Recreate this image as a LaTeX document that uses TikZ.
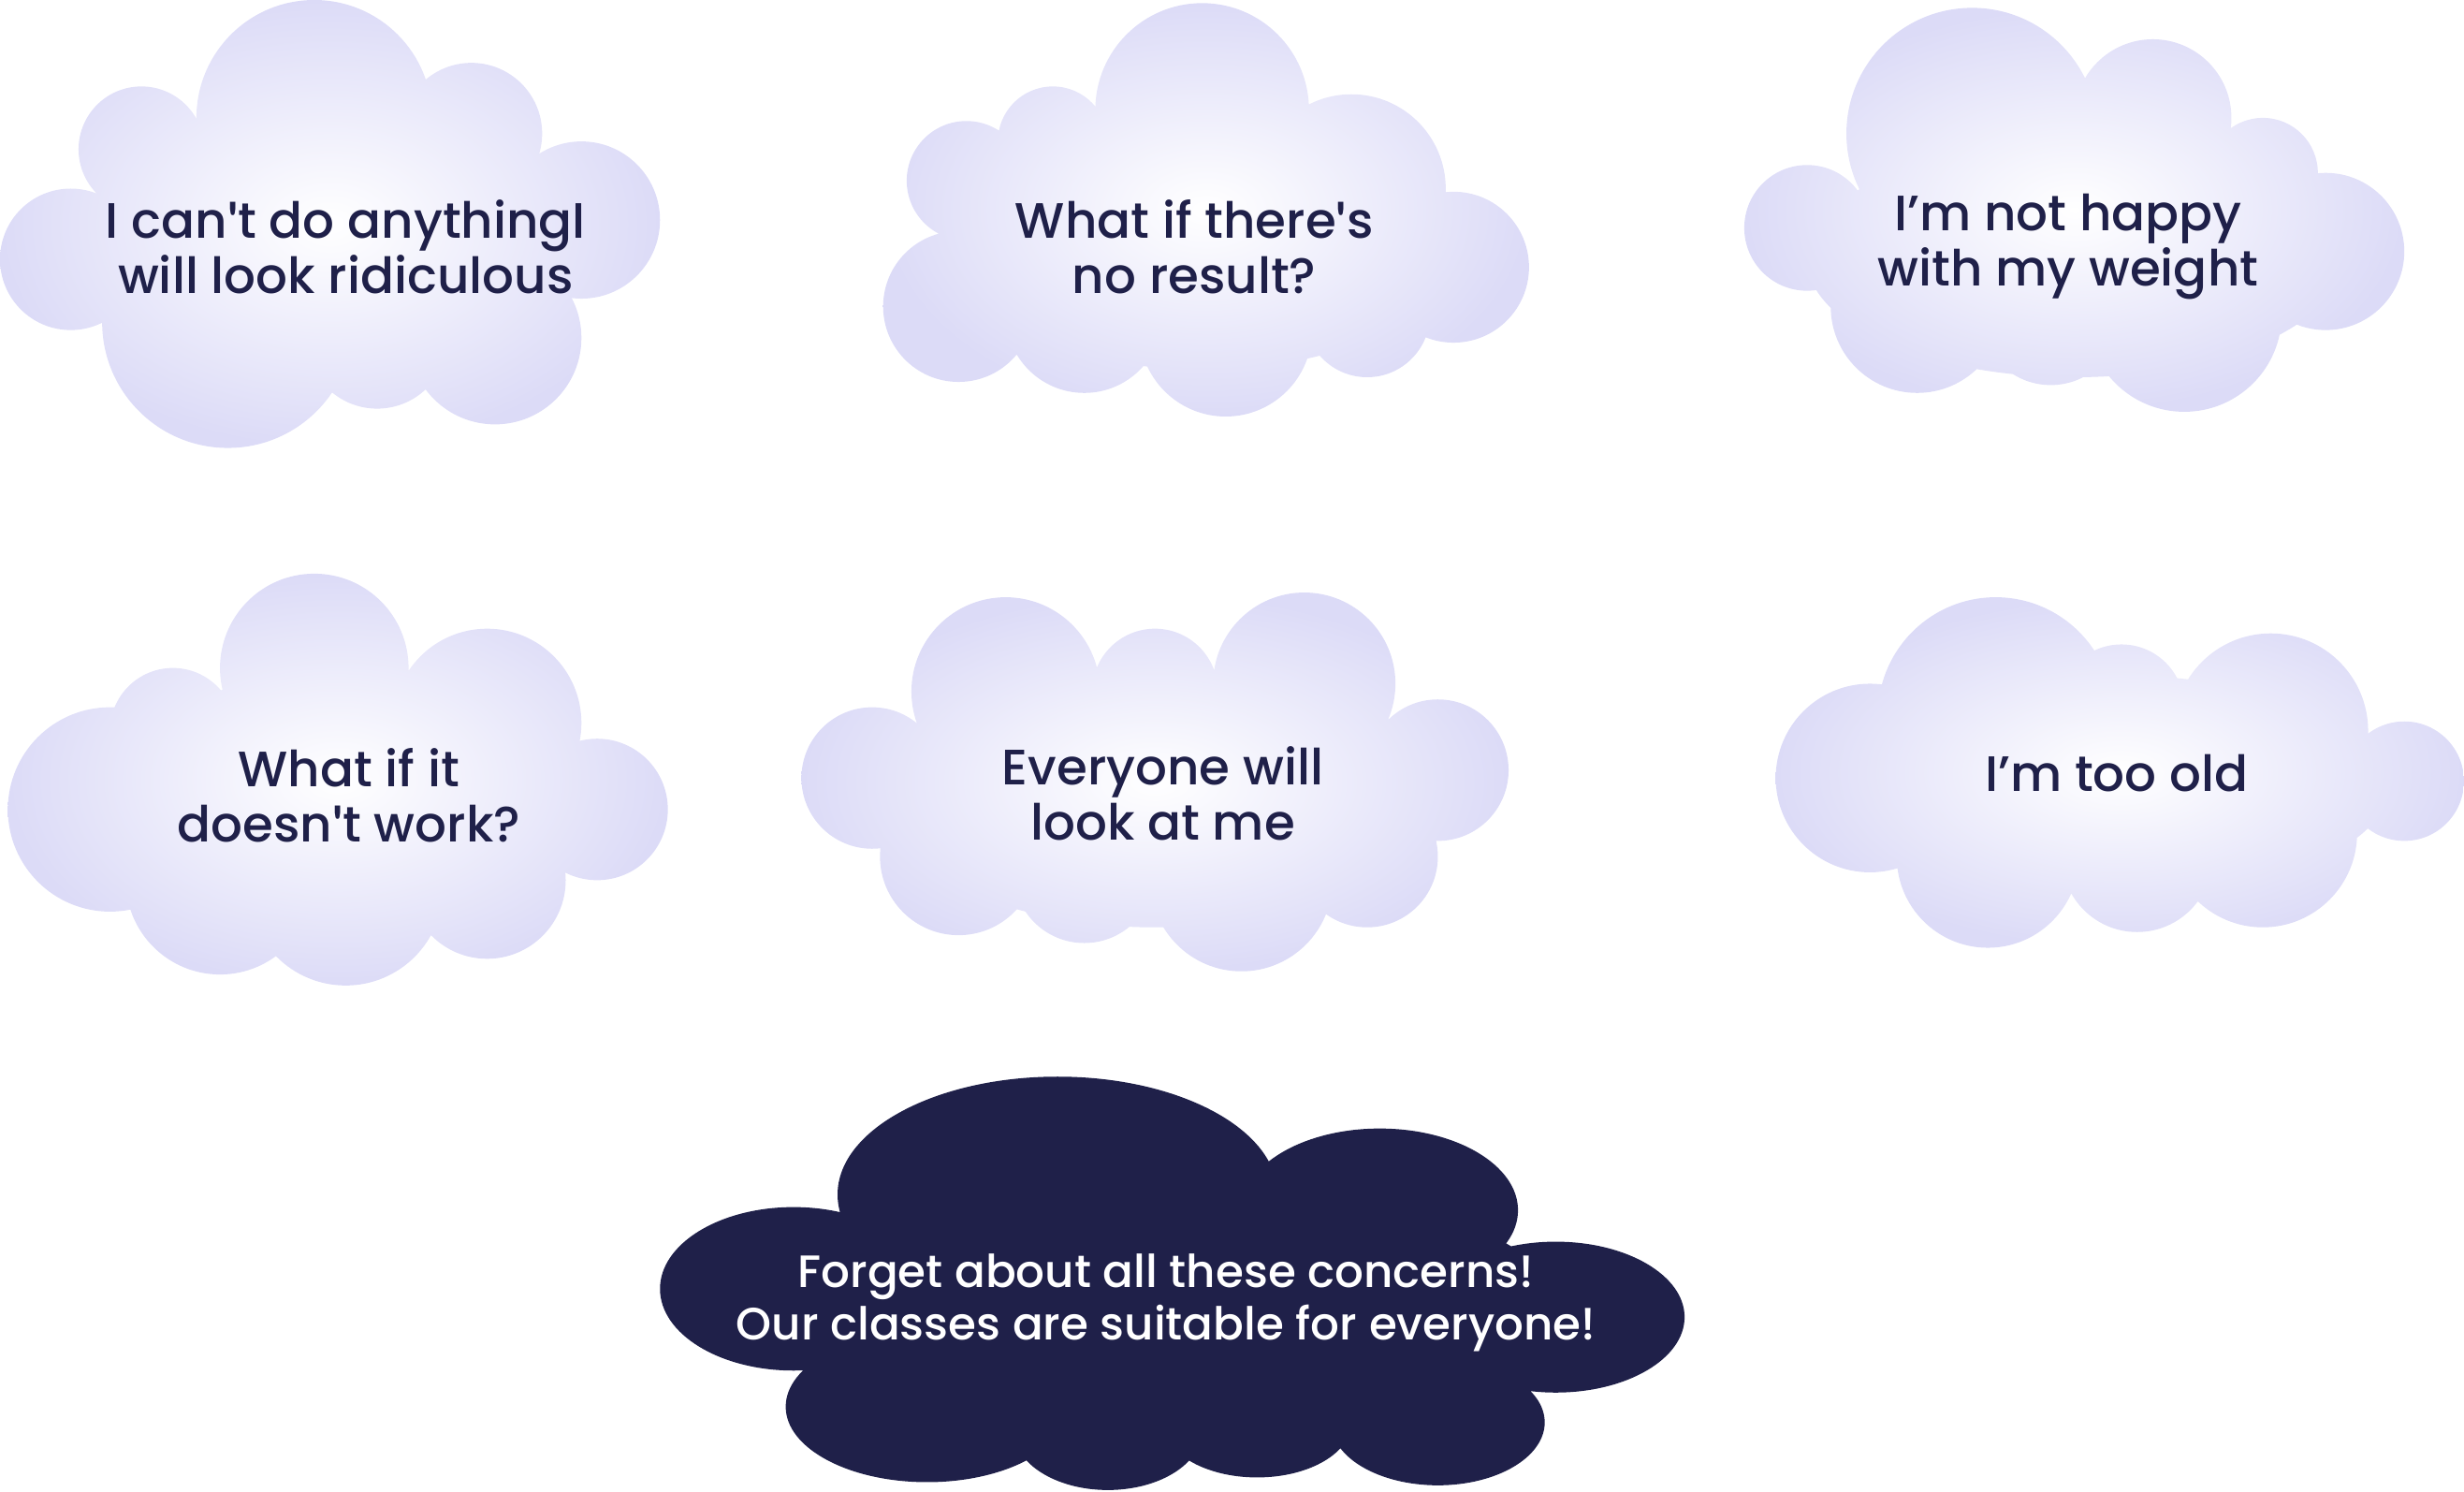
\documentclass[tikz,border=0pt]{standalone}
\usepackage{fontspec}
\setmainfont{Poppins}[UprightFont=* Medium]
\newfontfamily\apf{Lato}[UprightFont=* Bold]
\definecolor{navy}{HTML}{1F2049}
\definecolor{lav}{HTML}{DCDBF7}
\newcommand{\ap}{{\apf\char"27}}
\tikzset{cloud/.style={inner color=white,outer color=lav},
 txt/.style={text=navy,align=center,font=\fontsize{9}{9.9}\selectfont}}
\begin{document}
\begin{tikzpicture}[x=0.01cm,y=-0.01cm]
\useasboundingbox (0,0) rectangle (1568,949);
% cloud 1
\shade[cloud] (200,75) circle (75) (90,95) circle (40) (45,165) circle (45) (145,205) circle (80)
 (240,215) circle (45) (315,215) circle (55) (370,140) circle (50) (300,85) circle (45) (210,160) ellipse (150 and 80);
\node[txt] (c1) at (220,157) {I can\ap t do anythingI\\will look ridiculous};
% cloud 2
\shade[cloud] (765,70) circle (68) (670,90) circle (35) (615,115) circle (38) (610,195) circle (48)
 (690,200) circle (50) (780,210) circle (55) (870,200) circle (40) (925,170) circle (48) (860,120) circle (60) (765,160) ellipse (160 and 75);
\node[txt] (c2) at (760,157) {What if there\ap s\\no result?};
% cloud 3
\shade[cloud] (1255,85) circle (80) (1370,75) circle (50) (1150,145) circle (40) (1220,195) circle (55)
 (1390,200) circle (62) (1480,160) circle (50) (1440,110) circle (35) (1320,165) ellipse (170 and 75) (1305,200) circle (45);
\node[txt] (c3) at (1316,157) {I’m not happy\\with my weight};
% cloud 4
\shade[cloud] (200,425) circle (60) (310,460) circle (60) (70,515) circle (65) (380,515) circle (45)
 (140,560) circle (60) (220,565) circle (62) (310,560) circle (50) (110,465) circle (40) (215,510) ellipse (160 and 80);
\node[txt] (c4) at (222,506) {What if it\\doesn\ap t work?};
% cloud 5
\shade[cloud] (640,440) circle (60) (830,435) circle (58) (735,440) circle (40) (555,495) circle (45)
 (915,490) circle (45) (610,545) circle (50) (790,560) circle (58) (870,545) circle (45) (735,510) ellipse (170 and 80) (690,555) circle (45);
\node[txt] (c5) at (740,505) {Everyone will\\look at me};
% cloud 6
\shade[cloud] (1270,455) circle (75) (1445,465) circle (62) (1190,495) circle (60) (1530,497) circle (38)
 (1265,545) circle (58) (1360,545) circle (48) (1440,530) circle (60) (1350,500) ellipse (170 and 70) (1350,450) circle (40);
\node[txt] (c6) at (1347,492) {I’m too old};
% dark cloud
\fill[navy] (673,760) ellipse (140 and 75) (878,770) ellipse (88 and 52) (505,820) ellipse (85 and 52)
 (990,838) ellipse (82 and 48) (590,895) ellipse (90 and 48) (705,910) ellipse (60 and 38)
 (800,905) ellipse (60 and 35) (915,905) ellipse (68 and 40) (740,830) ellipse (250 and 80);
\node[txt,text=white,font=\fontsize{8.2}{8.2}\selectfont] (c7) at (742,829) {Forget about all these concerns!\\Our classes are suitable for everyone!};
\end{tikzpicture}
\end{document}
